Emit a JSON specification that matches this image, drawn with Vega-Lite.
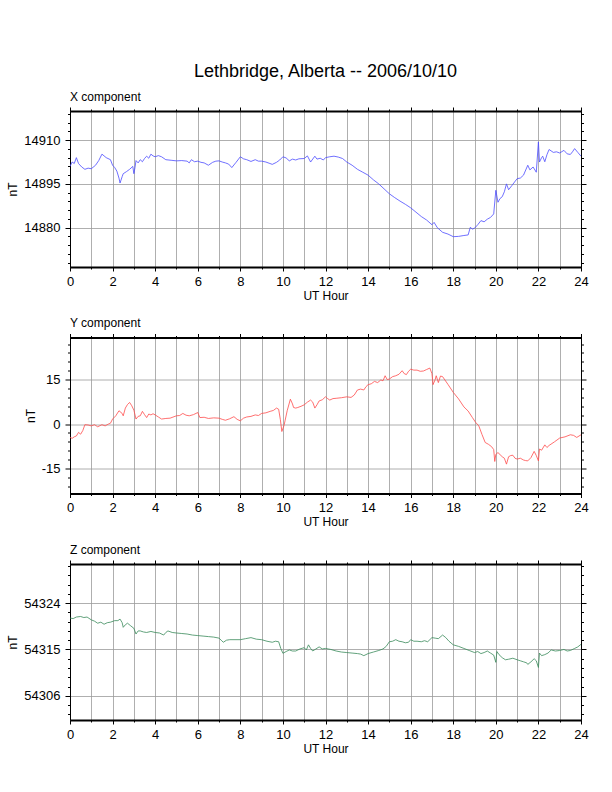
{
  "$schema": "https://vega.github.io/schema/vega-lite/v6.json",
  "background": "white",
  "padding": {"left": 6, "top": 63, "right": 5, "bottom": 10},
  "title": {"text": "Lethbridge, Alberta -- 2006/10/10", "fontSize": 18, "anchor": "middle", "frame": "group", "offset": 9},
  "datasets": {
    "x": [
      {"h": 0, "v": 14901}, {"h": 0.1, "v": 14902.5}, {"h": 0.2, "v": 14902}, {"h": 0.3, "v": 14904}, {"h": 0.4, "v": 14902},
      {"h": 0.55, "v": 14900.8}, {"h": 0.7, "v": 14900}, {"h": 0.85, "v": 14900.4}, {"h": 1.0, "v": 14900.2}, {"h": 1.2, "v": 14901.4},
      {"h": 1.35, "v": 14903}, {"h": 1.5, "v": 14905.2}, {"h": 1.6, "v": 14904.6}, {"h": 1.7, "v": 14904}, {"h": 1.9, "v": 14903.3},
      {"h": 2.0, "v": 14901.4}, {"h": 2.1, "v": 14900.6}, {"h": 2.2, "v": 14899.4}, {"h": 2.3, "v": 14897}, {"h": 2.35, "v": 14895.3},
      {"h": 2.45, "v": 14897.5}, {"h": 2.5, "v": 14898.5}, {"h": 2.65, "v": 14899.2}, {"h": 2.8, "v": 14900}, {"h": 2.95, "v": 14901},
      {"h": 3.0, "v": 14898.5}, {"h": 3.05, "v": 14900.5}, {"h": 3.1, "v": 14903}, {"h": 3.2, "v": 14902.2}, {"h": 3.3, "v": 14903.3},
      {"h": 3.4, "v": 14902.6}, {"h": 3.5, "v": 14903.7}, {"h": 3.6, "v": 14904.5}, {"h": 3.7, "v": 14903.8}, {"h": 3.8, "v": 14905.2},
      {"h": 3.9, "v": 14904.6}, {"h": 4.0, "v": 14904.3}, {"h": 4.15, "v": 14904.7}, {"h": 4.3, "v": 14904.3}, {"h": 4.5, "v": 14903.3},
      {"h": 4.75, "v": 14903.1}, {"h": 5.0, "v": 14902.9}, {"h": 5.25, "v": 14903}, {"h": 5.5, "v": 14902.8}, {"h": 5.6, "v": 14902.2},
      {"h": 5.7, "v": 14903.3}, {"h": 5.85, "v": 14902.6}, {"h": 6.0, "v": 14902.8}, {"h": 6.15, "v": 14902.4}, {"h": 6.3, "v": 14902.2},
      {"h": 6.5, "v": 14901.4}, {"h": 6.7, "v": 14902.4}, {"h": 6.85, "v": 14902.8}, {"h": 7.0, "v": 14902.9}, {"h": 7.15, "v": 14902.5},
      {"h": 7.3, "v": 14902.2}, {"h": 7.45, "v": 14901.8}, {"h": 7.6, "v": 14900.6}, {"h": 7.8, "v": 14902.4}, {"h": 8.0, "v": 14904.3},
      {"h": 8.15, "v": 14903.6}, {"h": 8.3, "v": 14903.3}, {"h": 8.5, "v": 14902.7}, {"h": 8.7, "v": 14903.3}, {"h": 8.85, "v": 14902.8},
      {"h": 9.0, "v": 14902.8}, {"h": 9.2, "v": 14902.5}, {"h": 9.35, "v": 14902.1}, {"h": 9.5, "v": 14901.7}, {"h": 9.7, "v": 14902.4},
      {"h": 9.85, "v": 14903.2}, {"h": 10.0, "v": 14904.3}, {"h": 10.15, "v": 14903.9}, {"h": 10.3, "v": 14902.9}, {"h": 10.45, "v": 14903.5},
      {"h": 10.6, "v": 14903.2}, {"h": 10.75, "v": 14903.6}, {"h": 11.0, "v": 14903.7}, {"h": 11.15, "v": 14904.6}, {"h": 11.3, "v": 14902.5},
      {"h": 11.5, "v": 14904.5}, {"h": 11.6, "v": 14903.5}, {"h": 11.75, "v": 14903.8}, {"h": 11.9, "v": 14903.2}, {"h": 12.0, "v": 14904},
      {"h": 12.2, "v": 14904.3}, {"h": 12.4, "v": 14904.5}, {"h": 12.6, "v": 14904.2}, {"h": 12.8, "v": 14903.7}, {"h": 13.0, "v": 14902.5},
      {"h": 13.25, "v": 14901.4}, {"h": 13.5, "v": 14900}, {"h": 13.75, "v": 14899}, {"h": 14.0, "v": 14898}, {"h": 14.25, "v": 14896.4},
      {"h": 14.5, "v": 14895}, {"h": 14.75, "v": 14893.3}, {"h": 15.0, "v": 14891.6}, {"h": 15.25, "v": 14890.3}, {"h": 15.5, "v": 14889.1},
      {"h": 15.75, "v": 14888}, {"h": 16.0, "v": 14886.8}, {"h": 16.25, "v": 14885.3}, {"h": 16.5, "v": 14883.8}, {"h": 16.75, "v": 14882.6},
      {"h": 17.0, "v": 14881}, {"h": 17.1, "v": 14881.8}, {"h": 17.25, "v": 14880}, {"h": 17.5, "v": 14878.4}, {"h": 17.75, "v": 14877.8},
      {"h": 18.0, "v": 14876.9}, {"h": 18.25, "v": 14877}, {"h": 18.5, "v": 14877.3}, {"h": 18.7, "v": 14877.5}, {"h": 18.8, "v": 14880.1},
      {"h": 18.9, "v": 14879.5}, {"h": 19.0, "v": 14879.8}, {"h": 19.15, "v": 14881}, {"h": 19.3, "v": 14882.4}, {"h": 19.45, "v": 14882},
      {"h": 19.6, "v": 14882.9}, {"h": 19.75, "v": 14883.5}, {"h": 19.9, "v": 14884.7}, {"h": 20.0, "v": 14892.8}, {"h": 20.1, "v": 14888.7},
      {"h": 20.2, "v": 14890}, {"h": 20.3, "v": 14890.6}, {"h": 20.4, "v": 14892.3}, {"h": 20.5, "v": 14895}, {"h": 20.6, "v": 14893},
      {"h": 20.75, "v": 14894.4}, {"h": 21.0, "v": 14896.8}, {"h": 21.15, "v": 14897}, {"h": 21.3, "v": 14898}, {"h": 21.5, "v": 14901.4},
      {"h": 21.6, "v": 14899.8}, {"h": 21.75, "v": 14900.8}, {"h": 21.9, "v": 14899}, {"h": 22.0, "v": 14909.4}, {"h": 22.05, "v": 14902.5},
      {"h": 22.15, "v": 14904}, {"h": 22.2, "v": 14904.5}, {"h": 22.3, "v": 14902.6}, {"h": 22.4, "v": 14905}, {"h": 22.5, "v": 14906.8},
      {"h": 22.7, "v": 14905.8}, {"h": 22.85, "v": 14906}, {"h": 23.0, "v": 14905.6}, {"h": 23.2, "v": 14906.5}, {"h": 23.35, "v": 14905.3},
      {"h": 23.5, "v": 14905.1}, {"h": 23.6, "v": 14906}, {"h": 23.7, "v": 14907.1}, {"h": 23.85, "v": 14905.8}, {"h": 24.0, "v": 14904.5}
    ],
    "y": [
      {"h": 0, "v": -4.5}, {"h": 0.1, "v": -4.8}, {"h": 0.2, "v": -4.3}, {"h": 0.3, "v": -4.0}, {"h": 0.4, "v": -2.8},
      {"h": 0.5, "v": -3.4}, {"h": 0.6, "v": -2.2}, {"h": 0.7, "v": -0.2}, {"h": 0.85, "v": -0.3}, {"h": 1.0, "v": -0.6},
      {"h": 1.15, "v": -0.2}, {"h": 1.3, "v": -0.9}, {"h": 1.5, "v": -0.2}, {"h": 1.65, "v": -0.6}, {"h": 1.8, "v": 0},
      {"h": 1.9, "v": 0.3}, {"h": 2.0, "v": 1.7}, {"h": 2.15, "v": 2.8}, {"h": 2.3, "v": 4.5}, {"h": 2.45, "v": 3.6},
      {"h": 2.5, "v": 2.8}, {"h": 2.6, "v": 5.4}, {"h": 2.7, "v": 6.6}, {"h": 2.8, "v": 7.3}, {"h": 2.9, "v": 6.2},
      {"h": 3.0, "v": 4.7}, {"h": 3.1, "v": 1.7}, {"h": 3.2, "v": 2.6}, {"h": 3.3, "v": 2.8}, {"h": 3.4, "v": 4.3},
      {"h": 3.5, "v": 3.2}, {"h": 3.6, "v": 2.2}, {"h": 3.7, "v": 3.4}, {"h": 3.8, "v": 3.1}, {"h": 3.9, "v": 3.5},
      {"h": 4.0, "v": 3.1}, {"h": 4.15, "v": 2.4}, {"h": 4.3, "v": 1.7}, {"h": 4.5, "v": 1.9}, {"h": 4.7, "v": 2.0},
      {"h": 5.0, "v": 2.8}, {"h": 5.15, "v": 2.9}, {"h": 5.3, "v": 3.6}, {"h": 5.45, "v": 3.0}, {"h": 5.6, "v": 2.8},
      {"h": 5.8, "v": 3.2}, {"h": 6.0, "v": 3.9}, {"h": 6.1, "v": 2.2}, {"h": 6.3, "v": 2.3}, {"h": 6.5, "v": 1.9},
      {"h": 6.75, "v": 2.1}, {"h": 7.0, "v": 2.0}, {"h": 7.15, "v": 1.6}, {"h": 7.3, "v": 1.3}, {"h": 7.5, "v": 1.8},
      {"h": 7.7, "v": 2.5}, {"h": 7.85, "v": 1.6}, {"h": 8.0, "v": 1.1}, {"h": 8.15, "v": 2.0}, {"h": 8.3, "v": 2.4},
      {"h": 8.5, "v": 2.6}, {"h": 8.7, "v": 3.1}, {"h": 8.85, "v": 2.9}, {"h": 9.0, "v": 3.6}, {"h": 9.2, "v": 3.8},
      {"h": 9.4, "v": 4.3}, {"h": 9.55, "v": 4.6}, {"h": 9.7, "v": 5.4}, {"h": 9.8, "v": 5.0}, {"h": 9.88, "v": 1.5},
      {"h": 9.95, "v": -2.5}, {"h": 10.05, "v": -0.5}, {"h": 10.1, "v": 1.1}, {"h": 10.2, "v": 4.5}, {"h": 10.35, "v": 8.4},
      {"h": 10.45, "v": 6.8}, {"h": 10.5, "v": 5.6}, {"h": 10.6, "v": 5.4}, {"h": 10.7, "v": 5.6}, {"h": 10.85, "v": 6.0},
      {"h": 11.0, "v": 6.5}, {"h": 11.15, "v": 7.4}, {"h": 11.3, "v": 8.1}, {"h": 11.4, "v": 7.4}, {"h": 11.5, "v": 5.4},
      {"h": 11.6, "v": 6.5}, {"h": 11.7, "v": 7.8}, {"h": 11.85, "v": 8.2}, {"h": 12.0, "v": 9.2}, {"h": 12.1, "v": 8.6},
      {"h": 12.2, "v": 8.1}, {"h": 12.35, "v": 8.6}, {"h": 12.5, "v": 8.7}, {"h": 12.75, "v": 8.9}, {"h": 13.0, "v": 9.2},
      {"h": 13.2, "v": 9.0}, {"h": 13.35, "v": 9.8}, {"h": 13.5, "v": 11.5}, {"h": 13.65, "v": 11.8}, {"h": 13.8, "v": 11.5},
      {"h": 13.9, "v": 12.6}, {"h": 14.0, "v": 13.3}, {"h": 14.15, "v": 13.6}, {"h": 14.3, "v": 14.4}, {"h": 14.45, "v": 14.0},
      {"h": 14.6, "v": 14.9}, {"h": 14.7, "v": 14.6}, {"h": 14.8, "v": 16.3}, {"h": 14.9, "v": 15.0}, {"h": 15.0, "v": 15.2},
      {"h": 15.15, "v": 16.0}, {"h": 15.3, "v": 16.3}, {"h": 15.45, "v": 16.8}, {"h": 15.6, "v": 18.0}, {"h": 15.7, "v": 17.0},
      {"h": 15.8, "v": 16.7}, {"h": 15.9, "v": 17.8}, {"h": 16.0, "v": 18.5}, {"h": 16.15, "v": 18.2}, {"h": 16.3, "v": 18.2},
      {"h": 16.45, "v": 17.8}, {"h": 16.6, "v": 17.9}, {"h": 16.75, "v": 18.4}, {"h": 16.9, "v": 18.9}, {"h": 17.0, "v": 17.0},
      {"h": 17.05, "v": 13.3}, {"h": 17.15, "v": 15.0}, {"h": 17.2, "v": 16.3}, {"h": 17.3, "v": 14.0}, {"h": 17.4, "v": 16.2},
      {"h": 17.5, "v": 16.0}, {"h": 17.75, "v": 13.4}, {"h": 18.0, "v": 10.7}, {"h": 18.25, "v": 8.5}, {"h": 18.5, "v": 5.8},
      {"h": 18.7, "v": 4.4}, {"h": 18.9, "v": 2.2}, {"h": 19.05, "v": 0.6}, {"h": 19.2, "v": -0.6}, {"h": 19.35, "v": -3.5},
      {"h": 19.5, "v": -6.2}, {"h": 19.65, "v": -6.8}, {"h": 19.8, "v": -7.6}, {"h": 19.9, "v": -8.6}, {"h": 19.95, "v": -12.6},
      {"h": 20.0, "v": -10.2}, {"h": 20.1, "v": -9.6}, {"h": 20.2, "v": -10.3}, {"h": 20.3, "v": -11.0}, {"h": 20.4, "v": -11.5},
      {"h": 20.5, "v": -13.5}, {"h": 20.6, "v": -11.0}, {"h": 20.7, "v": -10.6}, {"h": 20.8, "v": -10.5}, {"h": 20.9, "v": -11.5},
      {"h": 21.0, "v": -11.8}, {"h": 21.15, "v": -11.5}, {"h": 21.3, "v": -12.1}, {"h": 21.4, "v": -12.3}, {"h": 21.5, "v": -12.4},
      {"h": 21.65, "v": -11.3}, {"h": 21.8, "v": -9.2}, {"h": 21.9, "v": -10.6}, {"h": 22.0, "v": -12.4}, {"h": 22.05, "v": -8.4},
      {"h": 22.15, "v": -8.8}, {"h": 22.3, "v": -7.0}, {"h": 22.4, "v": -7.9}, {"h": 22.5, "v": -7.2}, {"h": 22.75, "v": -6.0},
      {"h": 23.0, "v": -4.7}, {"h": 23.25, "v": -4.3}, {"h": 23.5, "v": -3.6}, {"h": 23.65, "v": -3.8}, {"h": 23.8, "v": -4.5},
      {"h": 24.0, "v": -3.6}
    ],
    "z": [
      {"h": 0, "v": 54321.1}, {"h": 0.15, "v": 54321.0}, {"h": 0.3, "v": 54321.3}, {"h": 0.5, "v": 54321.4}, {"h": 0.65, "v": 54321.2},
      {"h": 0.8, "v": 54321.3}, {"h": 1.0, "v": 54320.75}, {"h": 1.15, "v": 54320.5}, {"h": 1.3, "v": 54320.1}, {"h": 1.45, "v": 54320.3},
      {"h": 1.6, "v": 54319.9}, {"h": 1.75, "v": 54320.2}, {"h": 1.9, "v": 54320.3}, {"h": 2.1, "v": 54320.6}, {"h": 2.25, "v": 54320.6},
      {"h": 2.35, "v": 54320.9}, {"h": 2.45, "v": 54320.2}, {"h": 2.5, "v": 54319.3}, {"h": 2.6, "v": 54319.8}, {"h": 2.7, "v": 54320.1},
      {"h": 2.85, "v": 54319.6}, {"h": 3.0, "v": 54319.1}, {"h": 3.1, "v": 54318.0}, {"h": 3.2, "v": 54318.6}, {"h": 3.3, "v": 54318.6},
      {"h": 3.45, "v": 54318.4}, {"h": 3.6, "v": 54318.3}, {"h": 3.8, "v": 54318.5}, {"h": 4.0, "v": 54318.3}, {"h": 4.2, "v": 54318.2},
      {"h": 4.4, "v": 54317.8}, {"h": 4.5, "v": 54318.3}, {"h": 4.6, "v": 54318.6}, {"h": 4.8, "v": 54318.3}, {"h": 5.0, "v": 54318.2},
      {"h": 5.25, "v": 54318.1}, {"h": 5.5, "v": 54318.0}, {"h": 5.75, "v": 54317.8}, {"h": 6.0, "v": 54317.7}, {"h": 6.25, "v": 54317.6},
      {"h": 6.5, "v": 54317.5}, {"h": 6.75, "v": 54317.4}, {"h": 7.0, "v": 54317.2}, {"h": 7.1, "v": 54316.8}, {"h": 7.2, "v": 54316.4},
      {"h": 7.35, "v": 54316.8}, {"h": 7.5, "v": 54316.9}, {"h": 7.75, "v": 54316.9}, {"h": 8.0, "v": 54316.9}, {"h": 8.25, "v": 54317.1},
      {"h": 8.5, "v": 54317.3}, {"h": 8.75, "v": 54317.0}, {"h": 9.0, "v": 54316.9}, {"h": 9.25, "v": 54316.6}, {"h": 9.5, "v": 54316.4},
      {"h": 9.65, "v": 54316.6}, {"h": 9.8, "v": 54316.5}, {"h": 9.9, "v": 54315.2}, {"h": 10.0, "v": 54314.25}, {"h": 10.15, "v": 54314.6},
      {"h": 10.3, "v": 54314.9}, {"h": 10.45, "v": 54314.7}, {"h": 10.6, "v": 54314.7}, {"h": 10.8, "v": 54315.1}, {"h": 11.0, "v": 54315.35},
      {"h": 11.1, "v": 54314.9}, {"h": 11.2, "v": 54315.9}, {"h": 11.3, "v": 54315.2}, {"h": 11.4, "v": 54314.7}, {"h": 11.55, "v": 54315.1},
      {"h": 11.7, "v": 54315.5}, {"h": 11.85, "v": 54315.1}, {"h": 12.0, "v": 54315.2}, {"h": 12.25, "v": 54315.0}, {"h": 12.5, "v": 54314.7},
      {"h": 12.75, "v": 54314.5}, {"h": 13.0, "v": 54314.4}, {"h": 13.25, "v": 54314.3}, {"h": 13.5, "v": 54314.2}, {"h": 13.65, "v": 54314.1},
      {"h": 13.8, "v": 54313.8}, {"h": 14.0, "v": 54314.2}, {"h": 14.25, "v": 54314.5}, {"h": 14.5, "v": 54314.8}, {"h": 14.7, "v": 54315.1},
      {"h": 14.85, "v": 54315.6}, {"h": 15.0, "v": 54316.5}, {"h": 15.15, "v": 54316.6}, {"h": 15.3, "v": 54316.9}, {"h": 15.45, "v": 54316.6},
      {"h": 15.6, "v": 54316.5}, {"h": 15.75, "v": 54316.3}, {"h": 15.9, "v": 54316.4}, {"h": 16.0, "v": 54316.9}, {"h": 16.15, "v": 54316.6},
      {"h": 16.3, "v": 54316.6}, {"h": 16.5, "v": 54316.5}, {"h": 16.65, "v": 54316.7}, {"h": 16.8, "v": 54316.5}, {"h": 17.0, "v": 54317.3},
      {"h": 17.15, "v": 54317.2}, {"h": 17.3, "v": 54317.1}, {"h": 17.5, "v": 54317.8}, {"h": 17.65, "v": 54317.3}, {"h": 17.8, "v": 54316.6},
      {"h": 18.0, "v": 54315.9}, {"h": 18.25, "v": 54315.6}, {"h": 18.5, "v": 54315.2}, {"h": 18.75, "v": 54314.8}, {"h": 19.0, "v": 54314.4},
      {"h": 19.15, "v": 54314.6}, {"h": 19.3, "v": 54314.2}, {"h": 19.45, "v": 54314.4}, {"h": 19.6, "v": 54314.7}, {"h": 19.75, "v": 54314.3},
      {"h": 19.9, "v": 54313.9}, {"h": 20.0, "v": 54312.5}, {"h": 20.05, "v": 54314.6}, {"h": 20.15, "v": 54314.0}, {"h": 20.3, "v": 54313.4},
      {"h": 20.45, "v": 54313.0}, {"h": 20.6, "v": 54313.1}, {"h": 20.8, "v": 54313.3}, {"h": 21.0, "v": 54313.0}, {"h": 21.15, "v": 54312.8},
      {"h": 21.3, "v": 54312.6}, {"h": 21.45, "v": 54312.4}, {"h": 21.5, "v": 54312.1}, {"h": 21.65, "v": 54312.6}, {"h": 21.8, "v": 54313.2},
      {"h": 21.9, "v": 54312.8}, {"h": 22.0, "v": 54311.5}, {"h": 22.05, "v": 54314.3}, {"h": 22.15, "v": 54313.8}, {"h": 22.3, "v": 54314.0},
      {"h": 22.45, "v": 54314.3}, {"h": 22.6, "v": 54314.9}, {"h": 22.8, "v": 54314.7}, {"h": 23.0, "v": 54314.8}, {"h": 23.2, "v": 54315.0},
      {"h": 23.35, "v": 54314.7}, {"h": 23.5, "v": 54314.8}, {"h": 23.7, "v": 54315.2}, {"h": 23.85, "v": 54315.5}, {"h": 24.0, "v": 54316.0}
    ]
  },
  "spacing": 70.5,
  "bounds": "flush",
  "vconcat": [
    {
      "width": 511,
      "height": 156,
      "title": {"text": "X component", "anchor": "start", "frame": "group", "fontSize": 12, "offset": 3},
      "data": {"name": "x"},
      "layer": [
        {
          "mark": {"type": "line", "color": "#4b4bff", "strokeWidth": 0.8, "clip": true},
          "encoding": {
            "x": {"field": "h", "type": "quantitative", "scale": {"domain": [0, 24], "nice": false},
              "axis": {"values": [0,1,2,3,4,5,6,7,8,9,10,11,12,13,14,15,16,17,18,19,20,21,22,23,24],
                "labelExpr": "datum.value % 2 == 0 ? toString(datum.value) : ''", "title": "UT Hour",
                "grid": true, "domainWidth": 2, "labelPadding": 4, "titlePadding": 2,
                "tickSize": {"condition": {"test": "datum.value % 2 == 0", "value": 4}, "value": 2}}},
            "y": {"field": "v", "type": "quantitative", "scale": {"domain": [14866.5, 14920], "nice": false, "zero": false},
              "axis": {"values": [14868,14871,14874,14877,14880,14883,14886,14889,14892,14895,14898,14901,14904,14907,14910,14913,14916,14919],
                "labelExpr": "datum.value % 15 == 0 ? toString(datum.value) : ''", "title": "nT",
                "grid": true, "gridOpacity": {"condition": {"test": "datum.value % 15 == 0", "value": 1}, "value": 0},
                "tickSize": {"condition": {"test": "datum.value % 15 == 0", "value": 5}, "value": 2.5},
                "labelPadding": 5, "titlePadding": 4}}
          }
        },
        {
          "mark": {"type": "line", "opacity": 0},
          "encoding": {
            "x": {"field": "h", "type": "quantitative",
              "axis": {"orient": "top", "values": [0,1,2,3,4,5,6,7,8,9,10,11,12,13,14,15,16,17,18,19,20,21,22,23,24],
                "labels": false, "title": null, "grid": false, "domainWidth": 2,
                "tickSize": {"condition": {"test": "datum.value % 2 == 0", "value": 4}, "value": 2}}},
            "y": {"field": "v", "type": "quantitative",
              "axis": {"orient": "right", "values": [14868,14871,14874,14877,14880,14883,14886,14889,14892,14895,14898,14901,14904,14907,14910,14913,14916,14919],
                "labels": false, "title": null, "grid": false,
                "tickSize": {"condition": {"test": "datum.value % 15 == 0", "value": 5}, "value": 2.5}}}
          }
        }
      ],
      "resolve": {"axis": {"x": "independent", "y": "independent"}}
    },
    {
      "width": 511,
      "height": 156,
      "title": {"text": "Y component", "anchor": "start", "frame": "group", "fontSize": 12, "offset": 3},
      "data": {"name": "y"},
      "layer": [
        {
          "mark": {"type": "line", "color": "#ff4b4b", "strokeWidth": 0.8, "clip": true},
          "encoding": {
            "x": {"field": "h", "type": "quantitative", "scale": {"domain": [0, 24], "nice": false},
              "axis": {"values": [0,1,2,3,4,5,6,7,8,9,10,11,12,13,14,15,16,17,18,19,20,21,22,23,24],
                "labelExpr": "datum.value % 2 == 0 ? toString(datum.value) : ''", "title": "UT Hour",
                "grid": true, "domainWidth": 2, "labelPadding": 4, "titlePadding": 2,
                "tickSize": {"condition": {"test": "datum.value % 2 == 0", "value": 4}, "value": 2}}},
            "y": {"field": "v", "type": "quantitative", "scale": {"domain": [-23.4, 29.2], "nice": false, "zero": false},
              "axis": {"values": [-21,-18,-15,-12,-9,-6,-3,0,3,6,9,12,15,18,21,24,27],
                "labelExpr": "datum.value % 15 == 0 ? toString(datum.value) : ''", "title": "nT",
                "grid": true, "gridOpacity": {"condition": {"test": "datum.value % 15 == 0", "value": 1}, "value": 0},
                "tickSize": {"condition": {"test": "datum.value % 15 == 0", "value": 5}, "value": 2.5},
                "labelPadding": 5, "titlePadding": 4}}
          }
        },
        {
          "mark": {"type": "line", "opacity": 0},
          "encoding": {
            "x": {"field": "h", "type": "quantitative",
              "axis": {"orient": "top", "values": [0,1,2,3,4,5,6,7,8,9,10,11,12,13,14,15,16,17,18,19,20,21,22,23,24],
                "labels": false, "title": null, "grid": false, "domainWidth": 2,
                "tickSize": {"condition": {"test": "datum.value % 2 == 0", "value": 4}, "value": 2}}},
            "y": {"field": "v", "type": "quantitative",
              "axis": {"orient": "right", "values": [-21,-18,-15,-12,-9,-6,-3,0,3,6,9,12,15,18,21,24,27],
                "labels": false, "title": null, "grid": false,
                "tickSize": {"condition": {"test": "datum.value % 15 == 0", "value": 5}, "value": 2.5}}}
          }
        }
      ],
      "resolve": {"axis": {"x": "independent", "y": "independent"}}
    },
    {
      "width": 511,
      "height": 156,
      "title": {"text": "Z component", "anchor": "start", "frame": "group", "fontSize": 12, "offset": 3},
      "data": {"name": "z"},
      "layer": [
        {
          "mark": {"type": "line", "color": "#3a8a5a", "strokeWidth": 0.8, "clip": true},
          "encoding": {
            "x": {"field": "h", "type": "quantitative", "scale": {"domain": [0, 24], "nice": false},
              "axis": {"values": [0,1,2,3,4,5,6,7,8,9,10,11,12,13,14,15,16,17,18,19,20,21,22,23,24],
                "labelExpr": "datum.value % 2 == 0 ? toString(datum.value) : ''", "title": "UT Hour",
                "grid": true, "domainWidth": 2, "labelPadding": 4, "titlePadding": 2,
                "tickSize": {"condition": {"test": "datum.value % 2 == 0", "value": 4}, "value": 2}}},
            "y": {"field": "v", "type": "quantitative", "scale": {"domain": [54301.3, 54331.6], "nice": false, "zero": false},
              "axis": {"values": [54302.4,54304.2,54306,54307.8,54309.6,54311.4,54313.2,54315,54316.8,54318.6,54320.4,54322.2,54324,54325.8,54327.6,54329.4,54331.2],
                "labelExpr": "datum.value % 9 == 0 ? toString(datum.value) : ''", "title": "nT",
                "grid": true, "gridOpacity": {"condition": {"test": "datum.value % 9 == 0", "value": 1}, "value": 0},
                "tickSize": {"condition": {"test": "datum.value % 9 == 0", "value": 5}, "value": 2.5},
                "labelPadding": 5, "titlePadding": 4}}
          }
        },
        {
          "mark": {"type": "line", "opacity": 0},
          "encoding": {
            "x": {"field": "h", "type": "quantitative",
              "axis": {"orient": "top", "values": [0,1,2,3,4,5,6,7,8,9,10,11,12,13,14,15,16,17,18,19,20,21,22,23,24],
                "labels": false, "title": null, "grid": false, "domainWidth": 2,
                "tickSize": {"condition": {"test": "datum.value % 2 == 0", "value": 4}, "value": 2}}},
            "y": {"field": "v", "type": "quantitative",
              "axis": {"orient": "right", "values": [54302.4,54304.2,54306,54307.8,54309.6,54311.4,54313.2,54315,54316.8,54318.6,54320.4,54322.2,54324,54325.8,54327.6,54329.4,54331.2],
                "labels": false, "title": null, "grid": false,
                "tickSize": {"condition": {"test": "datum.value % 9 == 0", "value": 5}, "value": 2.5}}}
          }
        }
      ],
      "resolve": {"axis": {"x": "independent", "y": "independent"}}
    }
  ],
  "config": {
    "font": "Liberation Sans",
    "view": {"stroke": "black", "strokeWidth": 1},
    "axis": {
      "labelColor": "black", "titleColor": "black", "tickColor": "black", "domainColor": "black",
      "labelFontSize": 13, "titleFontSize": 12, "titleFontWeight": "normal",
      "labelOverlap": false, "labelBound": false, "labelFlush": false,
      "gridColor": "#9a9a9a", "gridWidth": 0.8, "tickWidth": 1
    },
    "title": {"fontWeight": "normal", "color": "black"}
  }
}
